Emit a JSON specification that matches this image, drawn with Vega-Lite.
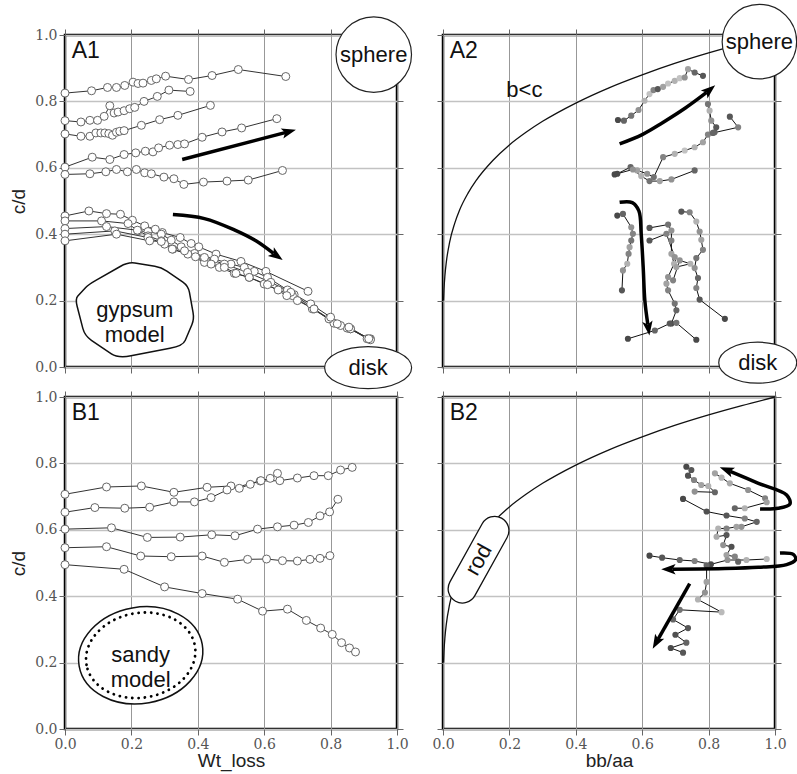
{
"$schema":"https://vega.github.io/schema/vega-lite/v6.json",
"padding":{"left":8,"top":0,"right":0,"bottom":0},
"background":"white",
"bounds":"flush",
"columns":2,
"spacing":{"row":30,"column":46},
"config":{
 "view":{"stroke":"#000","strokeWidth":2.5},
 "axis":{"domain":false,"grid":true,"gridColor":"#b4b4b4","gridWidth":1,"tickColor":"#666","tickSize":6,"tickWidth":1,"tickCount":5,"labelFlush":false,"labelFont":"DejaVu Serif","labelFontSize":14,"labelColor":"#555","labelPadding":2,"titleFont":"Liberation Sans","titleFontSize":19,"titleFontWeight":"normal","titleColor":"#222","titlePadding":6},
 "axisX":{"gridColor":"#8c8c8c","gridWidth":0.9},
 "axisY":{"gridColor":"#c2c2c2","gridWidth":1.4},
 "text":{"font":"Liberation Sans","color":"#111","lineBreak":"\n"}
},
"datasets":{
 "a1":[
  {"s":1,"x":0,"y":0.825},{"s":1,"x":0.08,"y":0.832},{"s":1,"x":0.128,"y":0.842},{"s":1,"x":0.155,"y":0.842},{"s":1,"x":0.18,"y":0.848},{"s":1,"x":0.205,"y":0.858},{"s":1,"x":0.22,"y":0.854},{"s":1,"x":0.235,"y":0.855},{"s":1,"x":0.26,"y":0.863},{"s":1,"x":0.275,"y":0.868},{"s":1,"x":0.303,"y":0.876},{"s":1,"x":0.372,"y":0.866},{"s":1,"x":0.443,"y":0.878},{"s":1,"x":0.522,"y":0.896},{"s":1,"x":0.665,"y":0.875},
  {"s":2,"x":0,"y":0.742},{"s":2,"x":0.048,"y":0.738},{"s":2,"x":0.075,"y":0.743},{"s":2,"x":0.098,"y":0.743},{"s":2,"x":0.118,"y":0.755},{"s":2,"x":0.135,"y":0.787},{"s":2,"x":0.148,"y":0.765},{"s":2,"x":0.16,"y":0.768},{"s":2,"x":0.178,"y":0.772},{"s":2,"x":0.195,"y":0.778},{"s":2,"x":0.21,"y":0.782},{"s":2,"x":0.238,"y":0.8},{"s":2,"x":0.278,"y":0.815},{"s":2,"x":0.313,"y":0.834},{"s":2,"x":0.377,"y":0.83},
  {"s":3,"x":0,"y":0.702},{"s":3,"x":0.048,"y":0.695},{"s":3,"x":0.075,"y":0.695},{"s":3,"x":0.093,"y":0.705},{"s":3,"x":0.108,"y":0.705},{"s":3,"x":0.12,"y":0.705},{"s":3,"x":0.132,"y":0.703},{"s":3,"x":0.143,"y":0.698},{"s":3,"x":0.155,"y":0.707},{"s":3,"x":0.165,"y":0.71},{"s":3,"x":0.178,"y":0.712},{"s":3,"x":0.23,"y":0.728},{"s":3,"x":0.285,"y":0.745},{"s":3,"x":0.34,"y":0.758},{"s":3,"x":0.438,"y":0.788},
  {"s":4,"x":0,"y":0.602},{"s":4,"x":0.082,"y":0.632},{"s":4,"x":0.135,"y":0.625},{"s":4,"x":0.178,"y":0.64},{"s":4,"x":0.213,"y":0.645},{"s":4,"x":0.242,"y":0.65},{"s":4,"x":0.265,"y":0.648},{"s":4,"x":0.282,"y":0.66},{"s":4,"x":0.315,"y":0.668},{"s":4,"x":0.34,"y":0.67},{"s":4,"x":0.36,"y":0.672},{"s":4,"x":0.413,"y":0.692},{"s":4,"x":0.473,"y":0.708},{"s":4,"x":0.532,"y":0.72},{"s":4,"x":0.638,"y":0.748},
  {"s":5,"x":0,"y":0.58},{"s":5,"x":0.075,"y":0.582},{"s":5,"x":0.123,"y":0.588},{"s":5,"x":0.155,"y":0.595},{"s":5,"x":0.188,"y":0.588},{"s":5,"x":0.215,"y":0.595},{"s":5,"x":0.24,"y":0.585},{"s":5,"x":0.26,"y":0.582},{"s":5,"x":0.298,"y":0.572},{"s":5,"x":0.328,"y":0.567},{"s":5,"x":0.358,"y":0.55},{"s":5,"x":0.417,"y":0.557},{"s":5,"x":0.488,"y":0.56},{"s":5,"x":0.552,"y":0.563},{"s":5,"x":0.655,"y":0.592},
  {"s":6,"x":0,"y":0.455},{"s":6,"x":0.072,"y":0.47},{"s":6,"x":0.125,"y":0.462},{"s":6,"x":0.167,"y":0.46},{"s":6,"x":0.203,"y":0.442},{"s":6,"x":0.24,"y":0.425},{"s":6,"x":0.272,"y":0.415},{"s":6,"x":0.293,"y":0.405},{"s":6,"x":0.347,"y":0.39},{"s":6,"x":0.38,"y":0.372},{"s":6,"x":0.403,"y":0.362},{"s":6,"x":0.455,"y":0.34},{"s":6,"x":0.53,"y":0.318},{"s":6,"x":0.605,"y":0.288},{"s":6,"x":0.732,"y":0.228},
  {"s":7,"x":0,"y":0.44},{"s":7,"x":0.11,"y":0.44},{"s":7,"x":0.19,"y":0.432},{"s":7,"x":0.22,"y":0.41},{"s":7,"x":0.25,"y":0.408},{"s":7,"x":0.29,"y":0.4},{"s":7,"x":0.32,"y":0.382},{"s":7,"x":0.35,"y":0.362},{"s":7,"x":0.39,"y":0.342},{"s":7,"x":0.45,"y":0.325},{"s":7,"x":0.5,"y":0.31},{"s":7,"x":0.54,"y":0.3},{"s":7,"x":0.57,"y":0.288},{"s":7,"x":0.61,"y":0.27},{"s":7,"x":0.67,"y":0.232},{"s":7,"x":0.69,"y":0.218},{"s":7,"x":0.75,"y":0.175},{"s":7,"x":0.81,"y":0.132},{"s":7,"x":0.85,"y":0.117},{"s":7,"x":0.92,"y":0.085},
  {"s":8,"x":0,"y":0.417},{"s":8,"x":0.125,"y":0.423},{"s":8,"x":0.218,"y":0.412},{"s":8,"x":0.25,"y":0.395},{"s":8,"x":0.29,"y":0.38},{"s":8,"x":0.325,"y":0.355},{"s":8,"x":0.37,"y":0.34},{"s":8,"x":0.42,"y":0.315},{"s":8,"x":0.465,"y":0.3},{"s":8,"x":0.51,"y":0.282},{"s":8,"x":0.555,"y":0.27},{"s":8,"x":0.6,"y":0.25},{"s":8,"x":0.642,"y":0.232},{"s":8,"x":0.685,"y":0.215},{"s":8,"x":0.745,"y":0.175},{"s":8,"x":0.795,"y":0.145},{"s":8,"x":0.83,"y":0.125},{"s":8,"x":0.86,"y":0.115},{"s":8,"x":0.92,"y":0.082},
  {"s":9,"x":0,"y":0.4},{"s":9,"x":0.15,"y":0.41},{"s":9,"x":0.25,"y":0.39},{"s":9,"x":0.3,"y":0.37},{"s":9,"x":0.36,"y":0.35},{"s":9,"x":0.42,"y":0.33},{"s":9,"x":0.48,"y":0.31},{"s":9,"x":0.55,"y":0.285},{"s":9,"x":0.62,"y":0.255},{"s":9,"x":0.68,"y":0.225},{"s":9,"x":0.74,"y":0.19},{"s":9,"x":0.8,"y":0.15},{"s":9,"x":0.86,"y":0.115},{"s":9,"x":0.91,"y":0.085},
  {"s":10,"x":0,"y":0.38},{"s":10,"x":0.155,"y":0.4},{"s":10,"x":0.255,"y":0.38},{"s":10,"x":0.29,"y":0.378},{"s":10,"x":0.323,"y":0.355},{"s":10,"x":0.393,"y":0.332},{"s":10,"x":0.44,"y":0.31},{"s":10,"x":0.48,"y":0.3},{"s":10,"x":0.515,"y":0.282},{"s":10,"x":0.555,"y":0.27},{"s":10,"x":0.61,"y":0.248},{"s":10,"x":0.668,"y":0.215},{"s":10,"x":0.7,"y":0.2},{"s":10,"x":0.75,"y":0.175},{"s":10,"x":0.82,"y":0.13},{"s":10,"x":0.855,"y":0.12},{"s":10,"x":0.915,"y":0.085}
 ],
 "b1":[
  {"s":1,"x":0,"y":0.707},{"s":1,"x":0.125,"y":0.729},{"s":1,"x":0.23,"y":0.732},{"s":1,"x":0.328,"y":0.713},{"s":1,"x":0.428,"y":0.728},{"s":1,"x":0.5,"y":0.732},{"s":1,"x":0.525,"y":0.725},{"s":1,"x":0.558,"y":0.737},{"s":1,"x":0.588,"y":0.747},{"s":1,"x":0.647,"y":0.748},{"s":1,"x":0.7,"y":0.756},{"s":1,"x":0.75,"y":0.763},{"s":1,"x":0.793,"y":0.763},{"s":1,"x":0.83,"y":0.78},{"s":1,"x":0.865,"y":0.788},
  {"s":2,"x":0,"y":0.653},{"s":2,"x":0.09,"y":0.667},{"s":2,"x":0.18,"y":0.665},{"s":2,"x":0.255,"y":0.668},{"s":2,"x":0.328,"y":0.684},{"s":2,"x":0.39,"y":0.684},{"s":2,"x":0.44,"y":0.697},{"s":2,"x":0.488,"y":0.72},{"s":2,"x":0.59,"y":0.748},{"s":2,"x":0.618,"y":0.755},{"s":2,"x":0.64,"y":0.77},
  {"s":3,"x":0,"y":0.602},{"s":3,"x":0.14,"y":0.606},{"s":3,"x":0.248,"y":0.577},{"s":3,"x":0.347,"y":0.578},{"s":3,"x":0.442,"y":0.585},{"s":3,"x":0.512,"y":0.582},{"s":3,"x":0.58,"y":0.602},{"s":3,"x":0.64,"y":0.609},{"s":3,"x":0.69,"y":0.614},{"s":3,"x":0.733,"y":0.622},{"s":3,"x":0.768,"y":0.642},{"s":3,"x":0.797,"y":0.654},{"s":3,"x":0.822,"y":0.692},
  {"s":4,"x":0,"y":0.546},{"s":4,"x":0.125,"y":0.549},{"s":4,"x":0.228,"y":0.521},{"s":4,"x":0.32,"y":0.519},{"s":4,"x":0.413,"y":0.521},{"s":4,"x":0.48,"y":0.502},{"s":4,"x":0.55,"y":0.511},{"s":4,"x":0.607,"y":0.512},{"s":4,"x":0.655,"y":0.507},{"s":4,"x":0.7,"y":0.506},{"s":4,"x":0.738,"y":0.511},{"s":4,"x":0.768,"y":0.514},{"s":4,"x":0.798,"y":0.522},
  {"s":5,"x":0,"y":0.495},{"s":5,"x":0.178,"y":0.481},{"s":5,"x":0.3,"y":0.428},{"s":5,"x":0.413,"y":0.408},{"s":5,"x":0.52,"y":0.391},{"s":5,"x":0.595,"y":0.355},{"s":5,"x":0.67,"y":0.361},{"s":5,"x":0.727,"y":0.327},{"s":5,"x":0.77,"y":0.304},{"s":5,"x":0.805,"y":0.285},{"s":5,"x":0.833,"y":0.26},{"s":5,"x":0.857,"y":0.244},{"s":5,"x":0.875,"y":0.232}
 ],
 "a2":[
  {"s":"u1","x":0.527,"y":0.744,"g":0.1},{"s":"u1","x":0.545,"y":0.742,"g":0.3},{"s":"u1","x":0.567,"y":0.757,"g":0.4},{"s":"u1","x":0.589,"y":0.774,"g":0.6},{"s":"u1","x":0.607,"y":0.802,"g":0.8},{"s":"u1","x":0.622,"y":0.822,"g":0.9},{"s":"u1","x":0.634,"y":0.834,"g":0.5},{"s":"u1","x":0.647,"y":0.837,"g":0.2},{"s":"u1","x":0.663,"y":0.844,"g":0.7},{"s":"u1","x":0.678,"y":0.854,"g":0.9},{"s":"u1","x":0.698,"y":0.862,"g":0.8},{"s":"u1","x":0.713,"y":0.87,"g":0.9},{"s":"u1","x":0.728,"y":0.872,"g":0.6},{"s":"u1","x":0.738,"y":0.897,"g":0.7},{"s":"u1","x":0.758,"y":0.887,"g":0.3},{"s":"u1","x":0.783,"y":0.877,"g":0.2},
  {"s":"u2","x":0.525,"y":0.582,"g":0.1},{"s":"u2","x":0.565,"y":0.602,"g":0.3},{"s":"u2","x":0.585,"y":0.592,"g":0.7},{"s":"u2","x":0.615,"y":0.582,"g":0.6},{"s":"u2","x":0.635,"y":0.572,"g":0.4},{"s":"u2","x":0.663,"y":0.632,"g":0.5},{"s":"u2","x":0.698,"y":0.642,"g":0.8},{"s":"u2","x":0.728,"y":0.652,"g":0.9},{"s":"u2","x":0.758,"y":0.662,"g":0.8},{"s":"u2","x":0.783,"y":0.677,"g":0.7},{"s":"u2","x":0.798,"y":0.7,"g":0.5},{"s":"u2","x":0.818,"y":0.707,"g":0.3},{"s":"u2","x":0.823,"y":0.722,"g":0.2},{"s":"u2","x":0.808,"y":0.742,"g":0.6},{"s":"u2","x":0.803,"y":0.772,"g":0.8},{"s":"u2","x":0.798,"y":0.792,"g":0.4},
  {"s":"u3","x":0.813,"y":0.705,"g":0.3},{"s":"u3","x":0.889,"y":0.722,"g":0.5},{"s":"u3","x":0.864,"y":0.754,"g":0.2},
  {"s":"u4","x":0.517,"y":0.58,"g":0.1},{"s":"u4","x":0.572,"y":0.595,"g":0.6},{"s":"u4","x":0.597,"y":0.575,"g":0.8},{"s":"u4","x":0.622,"y":0.56,"g":0.4},{"s":"u4","x":0.653,"y":0.56,"g":0.7},{"s":"u4","x":0.688,"y":0.565,"g":0.6},{"s":"u4","x":0.758,"y":0.592,"g":0.3},
  {"s":"d1","x":0.525,"y":0.456,"g":0.1},{"s":"d1","x":0.542,"y":0.461,"g":0.3},{"s":"d1","x":0.567,"y":0.421,"g":0.6},{"s":"d1","x":0.572,"y":0.401,"g":0.5},{"s":"d1","x":0.567,"y":0.381,"g":0.4},{"s":"d1","x":0.562,"y":0.361,"g":0.7},{"s":"d1","x":0.559,"y":0.341,"g":0.5},{"s":"d1","x":0.555,"y":0.311,"g":0.8},{"s":"d1","x":0.542,"y":0.291,"g":0.6},{"s":"d1","x":0.539,"y":0.231,"g":0.2},
  {"s":"d2","x":0.622,"y":0.419,"g":0.2},{"s":"d2","x":0.678,"y":0.429,"g":0.4},{"s":"d2","x":0.688,"y":0.411,"g":0.6},{"s":"d2","x":0.688,"y":0.381,"g":0.5},{"s":"d2","x":0.688,"y":0.341,"g":0.7},{"s":"d2","x":0.696,"y":0.311,"g":0.8},{"s":"d2","x":0.678,"y":0.271,"g":0.6},{"s":"d2","x":0.673,"y":0.251,"g":0.7},{"s":"d2","x":0.678,"y":0.231,"g":0.5},{"s":"d2","x":0.698,"y":0.191,"g":0.4},{"s":"d2","x":0.703,"y":0.171,"g":0.3},{"s":"d2","x":0.688,"y":0.131,"g":0.1},
  {"s":"d3","x":0.622,"y":0.381,"g":0.2},{"s":"d3","x":0.673,"y":0.401,"g":0.5},{"s":"d3","x":0.698,"y":0.331,"g":0.6},{"s":"d3","x":0.703,"y":0.301,"g":0.7},{"s":"d3","x":0.745,"y":0.311,"g":0.8},{"s":"d3","x":0.713,"y":0.321,"g":0.6},{"s":"d3","x":0.693,"y":0.261,"g":0.5},
  {"s":"d4","x":0.718,"y":0.468,"g":0.2},{"s":"d4","x":0.743,"y":0.466,"g":0.5},{"s":"d4","x":0.763,"y":0.438,"g":0.8},{"s":"d4","x":0.773,"y":0.408,"g":0.6},{"s":"d4","x":0.778,"y":0.383,"g":0.7},{"s":"d4","x":0.783,"y":0.353,"g":0.5},{"s":"d4","x":0.763,"y":0.328,"g":0.4},{"s":"d4","x":0.758,"y":0.298,"g":0.6},{"s":"d4","x":0.768,"y":0.268,"g":0.3},{"s":"d4","x":0.763,"y":0.238,"g":0.5},{"s":"d4","x":0.773,"y":0.203,"g":0.2},{"s":"d4","x":0.849,"y":0.145,"g":0.1},
  {"s":"d5","x":0.557,"y":0.085,"g":0.1},{"s":"d5","x":0.638,"y":0.11,"g":0.3},{"s":"d5","x":0.683,"y":0.131,"g":0.2},{"s":"d5","x":0.703,"y":0.133,"g":0.4},{"s":"d5","x":0.763,"y":0.082,"g":0.1}
 ],
 "b2":[
  {"s":"a","x":0.733,"y":0.79,"g":0.1},{"s":"a","x":0.748,"y":0.78,"g":0.2},{"s":"a","x":0.738,"y":0.763,"g":0.15},{"s":"a","x":0.756,"y":0.75,"g":0.5},{"s":"a","x":0.778,"y":0.735,"g":0.7},{"s":"a","x":0.799,"y":0.732,"g":0.8},{"s":"a","x":0.819,"y":0.713,"g":0.3},{"s":"a","x":0.758,"y":0.715,"g":0.6},
  {"s":"b","x":0.723,"y":0.693,"g":0.1},{"s":"b","x":0.794,"y":0.655,"g":0.15},{"s":"b","x":0.854,"y":0.643,"g":0.2},{"s":"b","x":0.909,"y":0.634,"g":0.5},{"s":"b","x":0.945,"y":0.624,"g":0.3},{"s":"b","x":0.899,"y":0.609,"g":0.6},{"s":"b","x":0.884,"y":0.609,"g":0.7},{"s":"b","x":0.854,"y":0.604,"g":0.5},{"s":"b","x":0.829,"y":0.604,"g":0.8},{"s":"b","x":0.824,"y":0.579,"g":0.75},{"s":"b","x":0.854,"y":0.584,"g":0.2},{"s":"b","x":0.844,"y":0.554,"g":0.6},{"s":"b","x":0.869,"y":0.549,"g":0.15},{"s":"b","x":0.854,"y":0.524,"g":0.7},{"s":"b","x":0.879,"y":0.519,"g":0.5},{"s":"b","x":0.889,"y":0.504,"g":0.3},
  {"s":"c","x":0.819,"y":0.77,"g":0.7},{"s":"c","x":0.839,"y":0.757,"g":0.8},{"s":"c","x":0.864,"y":0.74,"g":0.75},{"s":"c","x":0.919,"y":0.72,"g":0.6},{"s":"c","x":0.97,"y":0.695,"g":0.5},{"s":"c","x":0.975,"y":0.683,"g":0.7},{"s":"c","x":0.909,"y":0.665,"g":0.8},{"s":"c","x":0.879,"y":0.665,"g":0.3},
  {"s":"d","x":0.622,"y":0.522,"g":0.1},{"s":"d","x":0.66,"y":0.516,"g":0.2},{"s":"d","x":0.713,"y":0.509,"g":0.3},{"s":"d","x":0.758,"y":0.506,"g":0.5},{"s":"d","x":0.807,"y":0.496,"g":0.1},{"s":"d","x":0.857,"y":0.509,"g":0.6},{"s":"d","x":0.914,"y":0.509,"g":0.8},{"s":"d","x":0.975,"y":0.512,"g":0.85},
  {"s":"e","x":0.794,"y":0.493,"g":0.3},{"s":"e","x":0.794,"y":0.443,"g":0.7},{"s":"e","x":0.789,"y":0.411,"g":0.6},{"s":"e","x":0.768,"y":0.39,"g":0.8},{"s":"e","x":0.839,"y":0.352,"g":0.85},{"s":"e","x":0.713,"y":0.359,"g":0.4},{"s":"e","x":0.693,"y":0.33,"g":0.3},{"s":"e","x":0.738,"y":0.304,"g":0.2},{"s":"e","x":0.7,"y":0.284,"g":0.15},{"s":"e","x":0.733,"y":0.26,"g":0.3},{"s":"e","x":0.686,"y":0.244,"g":0.1},{"s":"e","x":0.723,"y":0.23,"g":0.2}
 ],
 "bound":[
  {"x":0.0016,"y":0.2},{"x":0.003,"y":0.234},{"x":0.006,"y":0.278},{"x":0.01,"y":0.316},{"x":0.02,"y":0.376},{"x":0.035,"y":0.432},{"x":0.05,"y":0.473},{"x":0.075,"y":0.523},{"x":0.1,"y":0.562},{"x":0.15,"y":0.622},{"x":0.2,"y":0.669},{"x":0.25,"y":0.707},{"x":0.3,"y":0.74},{"x":0.4,"y":0.795},{"x":0.5,"y":0.841},{"x":0.6,"y":0.88},{"x":0.7,"y":0.915},{"x":0.8,"y":0.946},{"x":0.9,"y":0.974},{"x":1.0,"y":1.0}
 ],
 "arrows":[
  {"p":"A1","a":1,"x":0.353,"y":0.625},{"p":"A1","a":1,"x":0.663,"y":0.706},
  {"p":"A1","a":2,"x":0.325,"y":0.459},{"p":"A1","a":2,"x":0.42,"y":0.447},{"p":"A1","a":2,"x":0.51,"y":0.413},{"p":"A1","a":2,"x":0.575,"y":0.38},{"p":"A1","a":2,"x":0.628,"y":0.342},
  {"p":"A2","a":3,"x":0.532,"y":0.672},{"p":"A2","a":3,"x":0.6,"y":0.7},{"p":"A2","a":3,"x":0.66,"y":0.735},{"p":"A2","a":3,"x":0.73,"y":0.78},{"p":"A2","a":3,"x":0.794,"y":0.827},
  {"p":"A2","a":4,"x":0.532,"y":0.496},{"p":"A2","a":4,"x":0.57,"y":0.495},{"p":"A2","a":4,"x":0.59,"y":0.47},{"p":"A2","a":4,"x":0.597,"y":0.4},{"p":"A2","a":4,"x":0.603,"y":0.3},{"p":"A2","a":4,"x":0.608,"y":0.2},{"p":"A2","a":4,"x":0.617,"y":0.128},
  {"p":"B2","a":5,"x":0.955,"y":0.663},{"p":"B2","a":5,"x":1.01,"y":0.665},{"p":"B2","a":5,"x":1.045,"y":0.678},{"p":"B2","a":5,"x":1.035,"y":0.705},{"p":"B2","a":5,"x":0.95,"y":0.74},{"p":"B2","a":5,"x":0.865,"y":0.776},
  {"p":"B2","a":6,"x":1.015,"y":0.53},{"p":"B2","a":6,"x":1.055,"y":0.526},{"p":"B2","a":6,"x":1.062,"y":0.51},{"p":"B2","a":6,"x":1.035,"y":0.495},{"p":"B2","a":6,"x":0.95,"y":0.487},{"p":"B2","a":6,"x":0.83,"y":0.483},{"p":"B2","a":6,"x":0.691,"y":0.481},
  {"p":"B2","a":7,"x":0.743,"y":0.438},{"p":"B2","a":7,"x":0.648,"y":0.271}
 ],
 "heads":[
  {"p":"A1","x":0.663,"y":0.706,"dir":75},{"p":"A1","x":0.628,"y":0.342,"dir":125},
  {"p":"A2","x":0.794,"y":0.827,"dir":50},{"p":"A2","x":0.617,"y":0.128,"dir":172},
  {"p":"B2","x":0.865,"y":0.776,"dir":291},{"p":"B2","x":0.691,"y":0.481,"dir":270},{"p":"B2","x":0.648,"y":0.271,"dir":209}
 ],
 "notes":[
  {"p":"A1","k":"sphere","x":0.93,"y":0.941,"t":"sphere"},
  {"p":"A1","k":"disk","x":0.913,"y":-0.002,"t":"disk"},
  {"p":"A1","k":"model","x":0.21,"y":0.173,"t":"gypsum\nmodel"},
  {"p":"A2","k":"sphere","x":0.953,"y":0.98,"t":"sphere"},
  {"p":"A2","k":"disk","x":0.948,"y":0.013,"t":"disk"},
  {"p":"A2","k":"free","x":0.245,"y":0.833,"t":"b<c"},
  {"p":"B1","k":"model","x":0.228,"y":0.222,"t":"sandy\nmodel"},
  {"p":"B2","k":"rod","x":0.107,"y":0.51,"t":"rod"}
 ]
},
"concat":[
 {"width":332,"height":332,
  "resolve":{"axis":{"x":"independent","y":"independent"}},
  "layer":[
   {"data":{"name":"a1"},"mark":{"type":"line","color":"#333","strokeWidth":1},
    "encoding":{"x":{"field":"x","type":"quantitative","scale":{"domain":[0,1],"nice":false},"axis":{"orient":"bottom","labels":false,"title":null}},
     "y":{"field":"y","type":"quantitative","scale":{"domain":[0,1],"nice":false},"axis":{"orient":"left","title":"c/d"}},
     "detail":{"field":"s","type":"nominal"},"order":{"value":null}}},
   {"data":{"name":"a1"},"mark":{"type":"circle","fill":"white","stroke":"#666","strokeWidth":1,"size":64,"opacity":1},
    "encoding":{"x":{"field":"x","type":"quantitative","scale":{"domain":[0,1],"nice":false},"axis":null},"y":{"field":"y","type":"quantitative","scale":{"domain":[0,1],"nice":false},"axis":null}}},
   {"data":{"name":"arrows"},"transform":[{"filter":"datum.p == 'A1'"}],"mark":{"type":"line","color":"#000","strokeWidth":3.5,"interpolate":"catmull-rom"},
    "encoding":{"x":{"field":"x","type":"quantitative","scale":{"domain":[0,1],"nice":false},"axis":null},"y":{"field":"y","type":"quantitative","scale":{"domain":[0,1],"nice":false},"axis":null},"detail":{"field":"a","type":"nominal"},"order":{"value":null}}},
   {"data":{"name":"heads"},"transform":[{"filter":"datum.p == 'A1'"}],"mark":{"type":"point","shape":"M0,-1.4 L0.65,0.4 L0,0 L-0.65,0.4 Z","filled":true,"fill":"#000","stroke":null,"size":256,"opacity":1},
    "encoding":{"x":{"field":"x","type":"quantitative","scale":{"domain":[0,1],"nice":false},"axis":null},"y":{"field":"y","type":"quantitative","scale":{"domain":[0,1],"nice":false},"axis":null},"angle":{"field":"dir","type":"quantitative","scale":null}}},
   {"data":{"name":"notes"},"transform":[{"filter":"datum.p == 'A1' && datum.k == 'model'"}],"mark":{"type":"point","shape":"M-0.244,-0.724 Q-0.11,-0.8 0.002,-0.782 L0.338,-0.728 Q0.45,-0.71 0.54,-0.648 L0.81,-0.462 Q0.9,-0.4 0.92,-0.288 L0.98,0.048 Q1,0.16 0.962,0.25 L0.848,0.52 Q0.81,0.61 0.592,0.652 L-0.062,0.778 Q-0.28,0.82 -0.392,0.744 L-0.728,0.516 Q-0.84,0.44 -0.872,0.316 L-0.968,-0.056 Q-1,-0.18 -0.956,-0.228 L-0.824,-0.372 Q-0.78,-0.42 -0.646,-0.496 Z","filled":true,"fill":"white","stroke":"#111","strokeWidth":1.5,"size":14161,"opacity":1},
    "encoding":{"x":{"field":"x","type":"quantitative","scale":{"domain":[0,1],"nice":false},"axis":null},"y":{"field":"y","type":"quantitative","scale":{"domain":[0,1],"nice":false},"axis":null}}},
   {"data":{"name":"notes"},"transform":[{"filter":"datum.p == 'A1' && datum.k == 'sphere'"}],"mark":{"type":"point","shape":"circle","filled":true,"fill":"white","stroke":"#222","strokeWidth":1.2,"size":5700,"opacity":1},
    "encoding":{"x":{"field":"x","type":"quantitative","scale":{"domain":[0,1],"nice":false},"axis":null},"y":{"field":"y","type":"quantitative","scale":{"domain":[0,1],"nice":false},"axis":null}}},
   {"data":{"name":"notes"},"transform":[{"filter":"datum.p == 'A1' && datum.k == 'disk'"}],"mark":{"type":"point","shape":"M-1,0 C-1,-0.267 -0.552,-0.483 0,-0.483 C0.552,-0.483 1,-0.267 1,0 C1,0.267 0.552,0.483 0,0.483 C-0.552,0.483 -1,0.267 -1,0 Z","filled":true,"fill":"white","stroke":"#222","strokeWidth":1.2,"size":7569,"opacity":1},
    "encoding":{"x":{"field":"x","type":"quantitative","scale":{"domain":[0,1],"nice":false},"axis":null},"y":{"field":"y","type":"quantitative","scale":{"domain":[0,1],"nice":false},"axis":null}}},
   {"data":{"name":"notes"},"transform":[{"filter":"datum.p == 'A1'"}],"mark":{"type":"text","fontSize":22,"align":"center","baseline":"middle","lineHeight":25},
    "encoding":{"x":{"field":"x","type":"quantitative","scale":{"domain":[0,1],"nice":false},"axis":null},"y":{"field":"y","type":"quantitative","scale":{"domain":[0,1],"nice":false},"axis":null},"text":{"field":"t"}}},
   {"data":{"values":[{"x":0.02,"y":0.985,"t":"A1"}]},"mark":{"type":"text","fontSize":23,"align":"left","baseline":"top"},
    "encoding":{"x":{"field":"x","type":"quantitative","scale":{"domain":[0,1],"nice":false},"axis":{"orient":"top","labels":false,"grid":false,"title":null}},"y":{"field":"y","type":"quantitative","scale":{"domain":[0,1],"nice":false},"axis":{"orient":"right","labels":false,"grid":false,"title":null}},"text":{"field":"t"}}}
  ]},
 {"width":332,"height":332,
  "resolve":{"axis":{"x":"independent","y":"independent"}},
  "layer":[
   {"data":{"name":"bound"},"mark":{"type":"line","color":"#111","strokeWidth":1.3,"interpolate":"monotone"},
    "encoding":{"x":{"field":"x","type":"quantitative","scale":{"domain":[0,1],"nice":false},"axis":{"orient":"bottom","labels":false,"title":null}},
     "y":{"field":"y","type":"quantitative","scale":{"domain":[0,1],"nice":false},"axis":{"orient":"left","labels":false,"title":null}}}},
   {"data":{"name":"a2"},"mark":{"type":"line","color":"#111","strokeWidth":1},
    "encoding":{"x":{"field":"x","type":"quantitative","scale":{"domain":[0,1],"nice":false},"axis":null},"y":{"field":"y","type":"quantitative","scale":{"domain":[0,1],"nice":false},"axis":null},"detail":{"field":"s","type":"nominal"},"order":{"value":null}}},
   {"data":{"name":"a2"},"mark":{"type":"circle","size":38,"opacity":1},
    "encoding":{"x":{"field":"x","type":"quantitative","scale":{"domain":[0,1],"nice":false},"axis":null},"y":{"field":"y","type":"quantitative","scale":{"domain":[0,1],"nice":false},"axis":null},"color":{"field":"g","type":"quantitative","scale":{"domain":[0,1],"range":["#3c3c3c","#d2d2d2"]},"legend":null}}},
   {"data":{"name":"arrows"},"transform":[{"filter":"datum.p == 'A2'"}],"mark":{"type":"line","color":"#000","strokeWidth":3.5,"interpolate":"catmull-rom"},
    "encoding":{"x":{"field":"x","type":"quantitative","scale":{"domain":[0,1],"nice":false},"axis":null},"y":{"field":"y","type":"quantitative","scale":{"domain":[0,1],"nice":false},"axis":null},"detail":{"field":"a","type":"nominal"},"order":{"value":null}}},
   {"data":{"name":"heads"},"transform":[{"filter":"datum.p == 'A2'"}],"mark":{"type":"point","shape":"M0,-1.4 L0.65,0.4 L0,0 L-0.65,0.4 Z","filled":true,"fill":"#000","stroke":null,"size":256,"opacity":1},
    "encoding":{"x":{"field":"x","type":"quantitative","scale":{"domain":[0,1],"nice":false},"axis":null},"y":{"field":"y","type":"quantitative","scale":{"domain":[0,1],"nice":false},"axis":null},"angle":{"field":"dir","type":"quantitative","scale":null}}},
   {"data":{"name":"notes"},"transform":[{"filter":"datum.p == 'A2' && datum.k == 'sphere'"}],"mark":{"type":"point","shape":"circle","filled":true,"fill":"white","stroke":"#222","strokeWidth":1.2,"size":5550,"opacity":1},
    "encoding":{"x":{"field":"x","type":"quantitative","scale":{"domain":[0,1],"nice":false},"axis":null},"y":{"field":"y","type":"quantitative","scale":{"domain":[0,1],"nice":false},"axis":null}}},
   {"data":{"name":"notes"},"transform":[{"filter":"datum.p == 'A2' && datum.k == 'disk'"}],"mark":{"type":"point","shape":"M-1,0 C-1,-0.29 -0.552,-0.526 0,-0.526 C0.552,-0.526 1,-0.29 1,0 C1,0.29 0.552,0.526 0,0.526 C-0.552,0.526 -1,0.29 -1,0 Z","filled":true,"fill":"white","stroke":"#222","strokeWidth":1.2,"size":6084,"opacity":1},
    "encoding":{"x":{"field":"x","type":"quantitative","scale":{"domain":[0,1],"nice":false},"axis":null},"y":{"field":"y","type":"quantitative","scale":{"domain":[0,1],"nice":false},"axis":null}}},
   {"data":{"name":"notes"},"transform":[{"filter":"datum.p == 'A2'"}],"mark":{"type":"text","fontSize":22,"align":"center","baseline":"middle"},
    "encoding":{"x":{"field":"x","type":"quantitative","scale":{"domain":[0,1],"nice":false},"axis":null},"y":{"field":"y","type":"quantitative","scale":{"domain":[0,1],"nice":false},"axis":null},"text":{"field":"t"}}},
   {"data":{"values":[{"x":0.02,"y":0.985,"t":"A2"}]},"mark":{"type":"text","fontSize":23,"align":"left","baseline":"top"},
    "encoding":{"x":{"field":"x","type":"quantitative","scale":{"domain":[0,1],"nice":false},"axis":{"orient":"top","labels":false,"grid":false,"title":null}},"y":{"field":"y","type":"quantitative","scale":{"domain":[0,1],"nice":false},"axis":{"orient":"right","labels":false,"grid":false,"title":null}},"text":{"field":"t"}}}
  ]},
 {"width":332,"height":332,
  "resolve":{"axis":{"x":"independent","y":"independent"}},
  "layer":[
   {"data":{"name":"b1"},"mark":{"type":"line","color":"#333","strokeWidth":1},
    "encoding":{"x":{"field":"x","type":"quantitative","scale":{"domain":[0,1],"nice":false},"axis":{"orient":"bottom","title":"Wt_loss","titlePadding":0}},
     "y":{"field":"y","type":"quantitative","scale":{"domain":[0,1],"nice":false},"axis":{"orient":"left","title":"c/d"}},
     "detail":{"field":"s","type":"nominal"},"order":{"value":null}}},
   {"data":{"name":"b1"},"mark":{"type":"circle","fill":"white","stroke":"#666","strokeWidth":1,"size":64,"opacity":1},
    "encoding":{"x":{"field":"x","type":"quantitative","scale":{"domain":[0,1],"nice":false},"axis":null},"y":{"field":"y","type":"quantitative","scale":{"domain":[0,1],"nice":false},"axis":null}}},
   {"data":{"name":"notes"},"transform":[{"filter":"datum.p == 'B1'"}],"mark":{"type":"point","shape":"M-1,0 C-1,-0.425 -0.552,-0.77 0,-0.77 C0.552,-0.77 1,-0.425 1,0 C1,0.425 0.552,0.77 0,0.77 C-0.552,0.77 -1,0.425 -1,0 Z","filled":true,"fill":"white","stroke":"#111","strokeWidth":1.5,"size":15625,"angle":-10,"opacity":1},
    "encoding":{"x":{"field":"x","type":"quantitative","scale":{"domain":[0,1],"nice":false},"axis":null},"y":{"field":"y","type":"quantitative","scale":{"domain":[0,1],"nice":false},"axis":null}}},
   {"data":{"name":"notes"},"transform":[{"filter":"datum.p == 'B1'"}],"mark":{"type":"point","shape":"M-1,0 C-1,-0.425 -0.552,-0.77 0,-0.77 C0.552,-0.77 1,-0.425 1,0 C1,0.425 0.552,0.77 0,0.77 C-0.552,0.77 -1,0.425 -1,0 Z","filled":false,"stroke":"#000","strokeWidth":2.8,"strokeDash":[0.1,6.2],"strokeCap":"round","size":12100,"angle":-10,"opacity":1},
    "encoding":{"x":{"field":"x","type":"quantitative","scale":{"domain":[0,1],"nice":false},"axis":null},"y":{"field":"y","type":"quantitative","scale":{"domain":[0,1],"nice":false},"axis":null}}},
   {"data":{"name":"notes"},"transform":[{"filter":"datum.p == 'B1'"}],"mark":{"type":"text","fontSize":22,"align":"center","baseline":"middle","lineHeight":25},
    "encoding":{"x":{"field":"x","type":"quantitative","scale":{"domain":[0,1],"nice":false},"axis":null},"y":{"field":"y","type":"quantitative","scale":{"domain":[0,1],"nice":false},"axis":null},"text":{"field":"t"}}},
   {"data":{"values":[{"x":0.02,"y":0.985,"t":"B1"}]},"mark":{"type":"text","fontSize":23,"align":"left","baseline":"top"},
    "encoding":{"x":{"field":"x","type":"quantitative","scale":{"domain":[0,1],"nice":false},"axis":{"orient":"top","labels":false,"grid":false,"title":null}},"y":{"field":"y","type":"quantitative","scale":{"domain":[0,1],"nice":false},"axis":{"orient":"right","labels":false,"grid":false,"title":null}},"text":{"field":"t"}}}
  ]},
 {"width":332,"height":332,
  "resolve":{"axis":{"x":"independent","y":"independent"}},
  "layer":[
   {"data":{"name":"bound"},"mark":{"type":"line","color":"#111","strokeWidth":1.3,"interpolate":"monotone"},
    "encoding":{"x":{"field":"x","type":"quantitative","scale":{"domain":[0,1],"nice":false},"axis":{"orient":"bottom","title":"bb/aa","titlePadding":0}},
     "y":{"field":"y","type":"quantitative","scale":{"domain":[0,1],"nice":false},"axis":{"orient":"left","labels":false,"title":null}}}},
   {"data":{"name":"b2"},"mark":{"type":"line","color":"#111","strokeWidth":1},
    "encoding":{"x":{"field":"x","type":"quantitative","scale":{"domain":[0,1],"nice":false},"axis":null},"y":{"field":"y","type":"quantitative","scale":{"domain":[0,1],"nice":false},"axis":null},"detail":{"field":"s","type":"nominal"},"order":{"value":null}}},
   {"data":{"name":"b2"},"mark":{"type":"circle","size":38,"opacity":1},
    "encoding":{"x":{"field":"x","type":"quantitative","scale":{"domain":[0,1],"nice":false},"axis":null},"y":{"field":"y","type":"quantitative","scale":{"domain":[0,1],"nice":false},"axis":null},"color":{"field":"g","type":"quantitative","scale":{"domain":[0,1],"range":["#3c3c3c","#d2d2d2"]},"legend":null}}},
   {"data":{"name":"arrows"},"transform":[{"filter":"datum.p == 'B2'"}],"mark":{"type":"line","color":"#000","strokeWidth":3.5,"interpolate":"catmull-rom"},
    "encoding":{"x":{"field":"x","type":"quantitative","scale":{"domain":[0,1],"nice":false},"axis":null},"y":{"field":"y","type":"quantitative","scale":{"domain":[0,1],"nice":false},"axis":null},"detail":{"field":"a","type":"nominal"},"order":{"value":null}}},
   {"data":{"name":"heads"},"transform":[{"filter":"datum.p == 'B2'"}],"mark":{"type":"point","shape":"M0,-1.4 L0.65,0.4 L0,0 L-0.65,0.4 Z","filled":true,"fill":"#000","stroke":null,"size":256,"opacity":1},
    "encoding":{"x":{"field":"x","type":"quantitative","scale":{"domain":[0,1],"nice":false},"axis":null},"y":{"field":"y","type":"quantitative","scale":{"domain":[0,1],"nice":false},"axis":null},"angle":{"field":"dir","type":"quantitative","scale":null}}},
   {"data":{"name":"notes"},"transform":[{"filter":"datum.p == 'B2'"}],"mark":{"type":"point","shape":"M-0.3,-0.7 C-0.3,-0.866 -0.166,-1 0,-1 C0.166,-1 0.3,-0.866 0.3,-0.7 L0.3,0.7 C0.3,0.866 0.166,1 0,1 C-0.166,1 -0.3,0.866 -0.3,0.7 Z","filled":true,"fill":"white","stroke":"#111","strokeWidth":1.3,"size":9025,"angle":29,"opacity":1},
    "encoding":{"x":{"field":"x","type":"quantitative","scale":{"domain":[0,1],"nice":false},"axis":null},"y":{"field":"y","type":"quantitative","scale":{"domain":[0,1],"nice":false},"axis":null}}},
   {"data":{"name":"notes"},"transform":[{"filter":"datum.p == 'B2'"}],"mark":{"type":"text","fontSize":22,"align":"center","baseline":"middle","angle":-61},
    "encoding":{"x":{"field":"x","type":"quantitative","scale":{"domain":[0,1],"nice":false},"axis":null},"y":{"field":"y","type":"quantitative","scale":{"domain":[0,1],"nice":false},"axis":null},"text":{"field":"t"}}},
   {"data":{"values":[{"x":0.02,"y":0.985,"t":"B2"}]},"mark":{"type":"text","fontSize":23,"align":"left","baseline":"top"},
    "encoding":{"x":{"field":"x","type":"quantitative","scale":{"domain":[0,1],"nice":false},"axis":{"orient":"top","labels":false,"grid":false,"title":null}},"y":{"field":"y","type":"quantitative","scale":{"domain":[0,1],"nice":false},"axis":{"orient":"right","labels":false,"grid":false,"title":null}},"text":{"field":"t"}}}
  ]}
]
}
